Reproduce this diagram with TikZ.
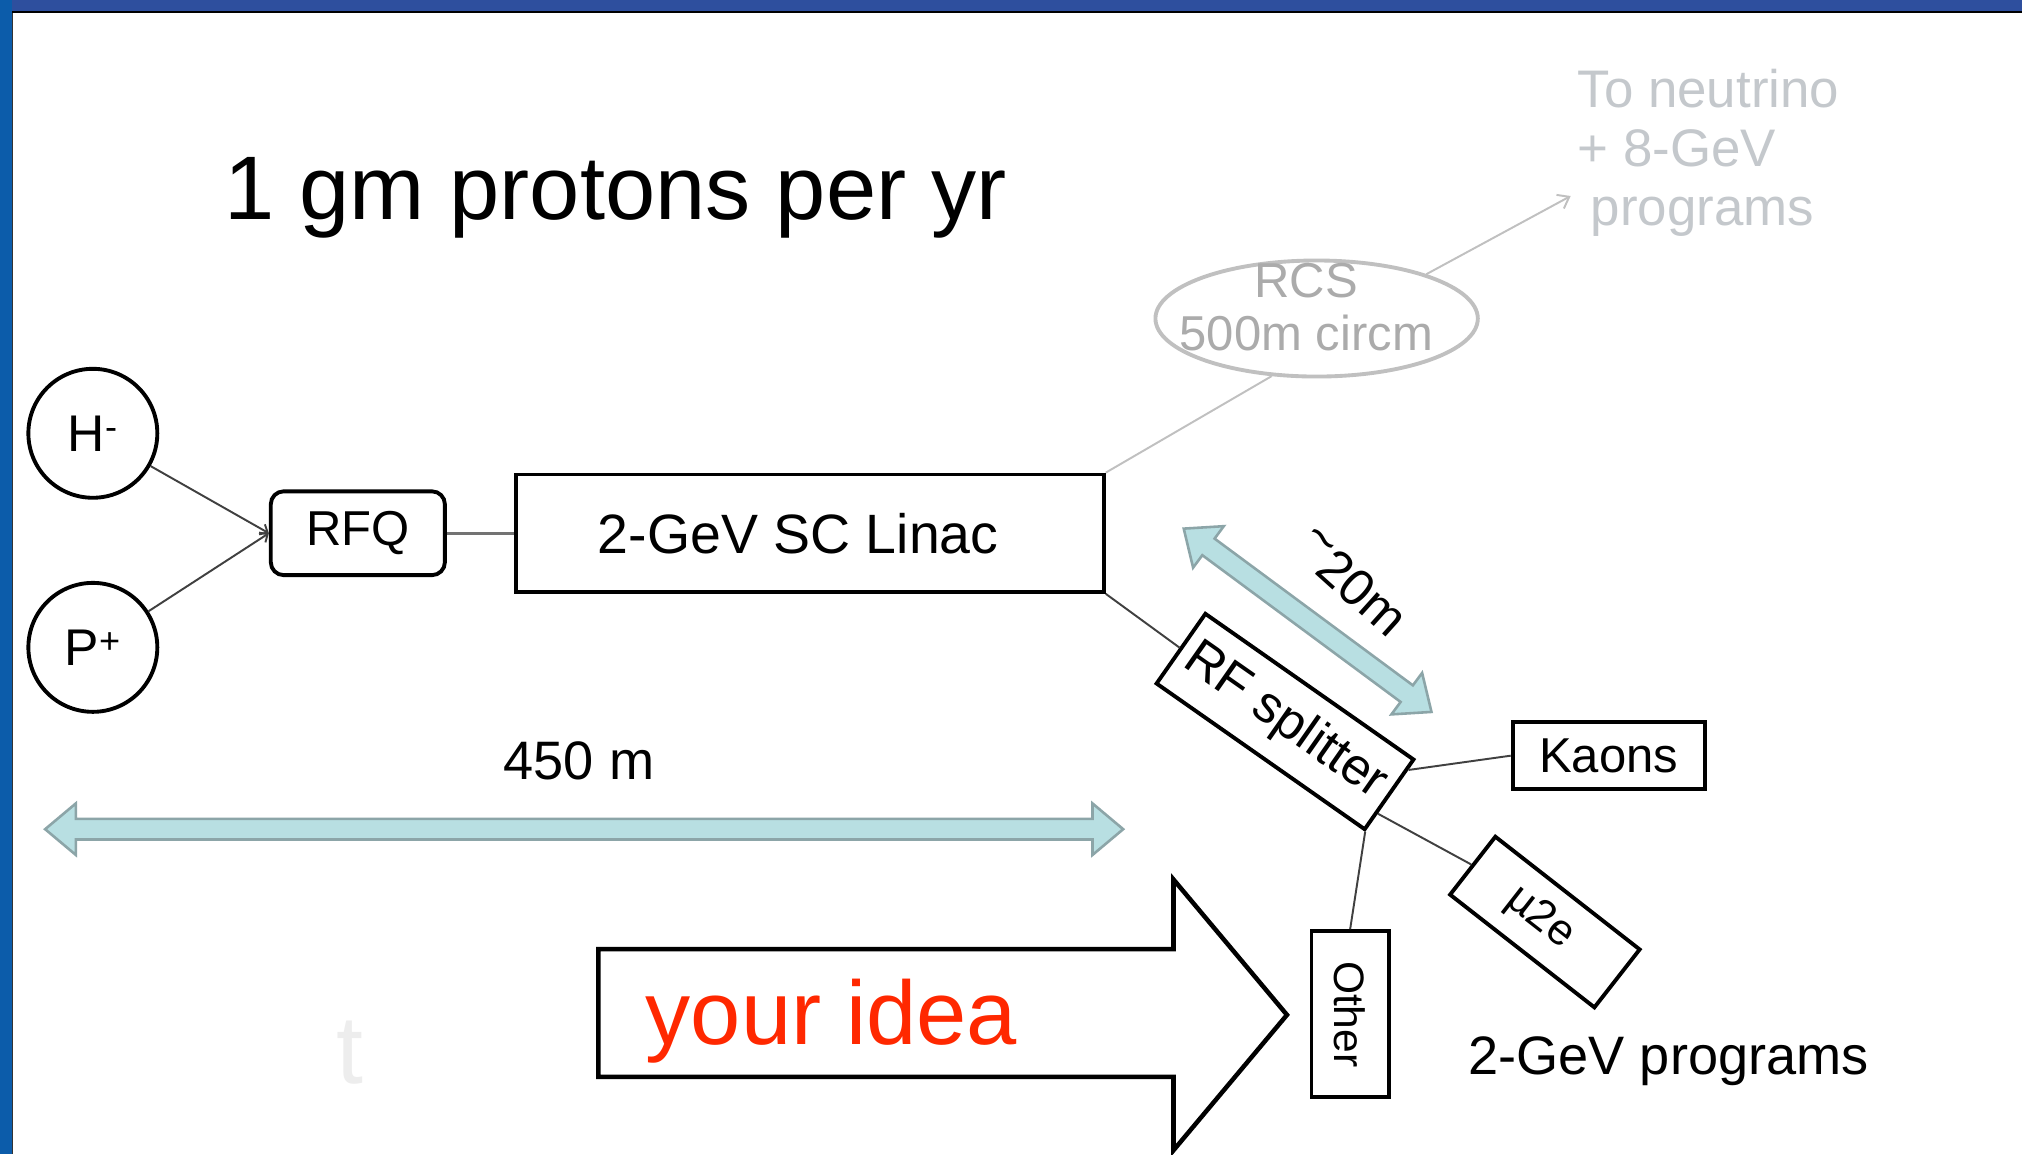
\documentclass[tikz,border=0pt]{standalone}
\usepackage{fontspec}
\setmainfont{Liberation Sans}
\usetikzlibrary{positioning,shapes.geometric,shapes.arrows,arrows.meta,calc}

\definecolor{framebar}{RGB}{46,79,158}
\definecolor{sidebar}{RGB}{12,92,170}
\definecolor{dimfill}{RGB}{184,223,226}
\definecolor{dimedge}{RGB}{140,165,168}
\definecolor{rcsgray}{RGB}{192,192,192}
\definecolor{fadegray}{RGB}{196,200,204}
\definecolor{ideared}{RGB}{255,40,0}

\newcommand{\fsz}[1]{\fontsize{#1}{#1}\selectfont}

\begin{document}
\begin{tikzpicture}[x=1pt,y=-1pt,>=stealth,node distance=166pt,
  thick,
  ion node/.style={circle,draw,line width=3pt,minimum size=100pt,inner sep=0pt,font=\fsz{40}},
  box node/.style={rectangle,draw,line width=3pt,inner sep=0pt,font=\fsz{38}},
  dim arrow/.style={double arrow,draw=dimedge,fill=dimfill,line width=2pt,inner sep=7pt,
    minimum width=0pt,double arrow head extend=12pt,double arrow tip angle=80},
  beam/.style={draw=black!75,line width=1.5pt},
  faint/.style={draw=rcsgray,line width=1.5pt}]

  % slide frame
  \useasboundingbox (0,0) rectangle (1568,895);
  \fill[white] (0,0) rectangle (1568,895);
  \fill[framebar] (0,0) rectangle (1568,8.5);
  \fill[black] (0,8.5) rectangle (1568,10);
  \fill[sidebar] (0,0) rectangle (9,895);
  \draw[black!80,line width=1pt] (9.5,10) -- (9.5,895);

  \node[anchor=base west,font=\fsz{70}] (title) at (170,170) {1 gm protons per yr};
  \node[text=black!7,font=\fsz{75}] (ghost) at (271,816) {t};

  % sources and linac
  \node[ion node] (hm) at (72,336) {H\textsuperscript{-}};
  \node[ion node] (pp) [below of=hm] {P\textsuperscript{+}};
  \node[box node,rounded corners=10pt,minimum width=135pt,minimum height=65pt] (rfq) at (277.5,413.5) {RFQ};
  \node[box node,minimum width=456pt,minimum height=91pt,font=\fsz{43}] (linac) [right=52pt of rfq]
    {2-GeV SC Linac\hspace*{18pt}};

  % RCS branch
  \node[ellipse,draw=rcsgray,line width=3pt,minimum width=250pt,minimum height=90pt] (rcs) at (1021,247) {};
  \node[align=center,text=black!33,font=\fontsize{38}{41}\selectfont] (rcstext) at (1013,238) {RCS\\500m circm};
  \node[anchor=north west,align=left,inner sep=0pt,text=fadegray,font=\fontsize{41}{46}\selectfont] (nu) at (1223,53)
    {To neutrino\\+ 8-GeV\\\hspace*{0.25em}programs};
  \coordinate (nutip) at (1218,152);

  % 2 GeV programs
  \node[box node,minimum width=197pt,minimum height=66pt,rotate=-35,font=\fsz{40}] (rfs) at (996.5,559.5) {RF splitter};
  \node[box node,minimum width=149pt,minimum height=52pt] (kaons) at (1247.5,586) {Kaons};
  \node[box node,minimum width=142pt,minimum height=57pt,rotate=-38,font=\fsz{34}] (mu) at (1198,715) {µ2e\hspace*{10pt}};
  \node[box node,minimum width=60pt,minimum height=129pt,font=\fsz{33}] (other) at (1047,786.5) {\rotatebox{-90}{Other}};
  \node[anchor=base west,font=\fsz{42}] (prog) at (1135,833) {2-GeV programs};

  % distances
  \node[dim arrow,minimum height=836pt] (span) at (453,643) {};
  \node[font=\fsz{42}] (spanlabel) at (449,590) {450 m};
  \node[dim arrow,minimum height=239pt,rotate=-36.5] (gap) at (1014,481) {};
  \node[font=\fsz{40},rotate=-42] (gaplabel) at (1048,452) {\raisebox{0.28em}{\textasciitilde}20m};

  % your idea
  \draw[line width=3.5pt] (464,736) -- (910,736) -- (910,682) -- (998,787)
    -- (910,892) -- (910,835) -- (464,835) -- cycle;
  \node[anchor=base west,text=ideared,font=\fsz{70}] (idea) at (497,810) {your idea};

  % connections
  \draw[beam,-{Straight Barb[length=5pt,width=9pt]}] (hm) -- (rfq.west);
  \draw[beam,-{Straight Barb[length=5pt,width=9pt]}] (pp) -- (rfq.west);
  \draw[draw=black!55,line width=2pt] (rfq.east) -- (linac.west);
  \draw[faint] (linac.north east) -- (rcs.-128);
  \draw[faint,-{Straight Barb[length=8pt,width=12pt]}] (rcs.22) -- (nutip);
  \draw[beam] (linac.south east) -- (rfs.west);
  \draw[beam] ($(rfs.north east)!0.15!(rfs.south east)$) -- (kaons.west);
  \draw[beam] ($(rfs.south east)!0.25!(rfs.north east)$) -- (mu.west);
  \draw[beam] (rfs.south east) -- (other.north);
\end{tikzpicture}
\end{document}
